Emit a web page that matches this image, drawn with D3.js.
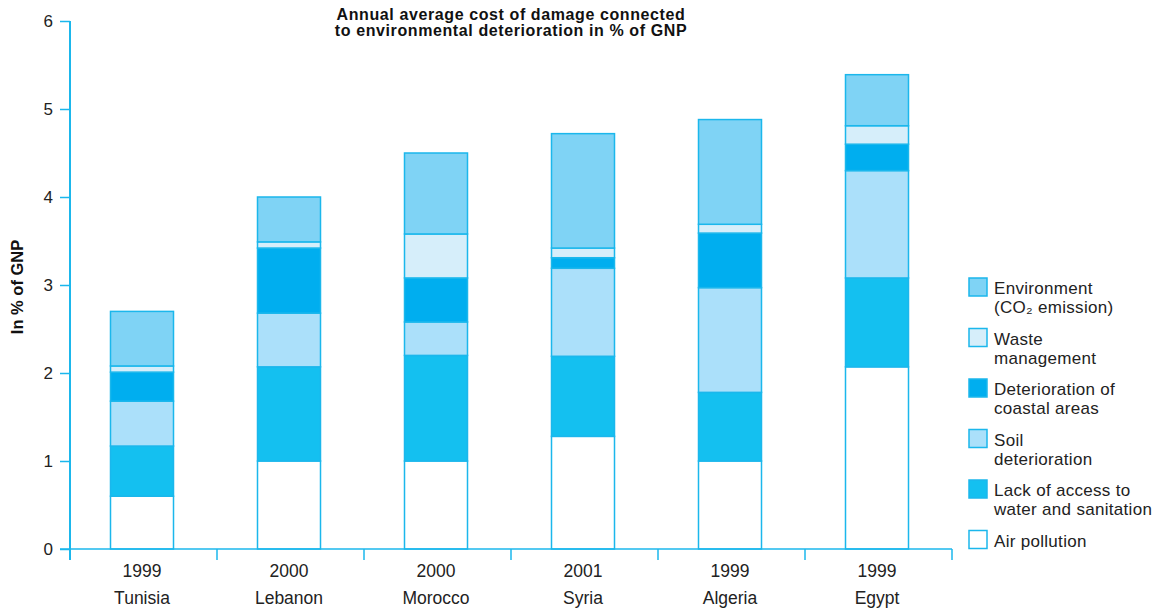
<!DOCTYPE html>
<html>
<head>
<meta charset="utf-8">
<script src="https://cdn.jsdelivr.net/npm/d3@7"></script>
<style>
  html, body { margin: 0; padding: 0; background: #fff; }
  svg { display: block; font-family: "Liberation Sans", Arial, Helvetica, sans-serif; }
</style>
</head>
<body>
<svg id="chart" width="1157" height="611"></svg>
<script>
// Countries and survey years
const countries = ["Tunisia", "Lebanon", "Morocco", "Syria", "Algeria", "Egypt"];
const years = ["1999", "2000", "2000", "2001", "1999", "1999"];

// Cost of damage by category, % of GNP (stacked bottom to top)
const airPollution   = [0.60, 1.00, 1.00, 1.28, 1.00, 2.07];
const waterAccess    = [0.57, 1.07, 1.20, 0.91, 0.78, 1.01];
const soil           = [0.51, 0.61, 0.38, 1.00, 1.19, 1.22];
const coastal        = [0.33, 0.74, 0.50, 0.12, 0.62, 0.30];
const waste          = [0.07, 0.07, 0.50, 0.11, 0.10, 0.21];
const co2            = [0.62, 0.51, 0.92, 1.30, 1.19, 0.58];

const yTicks = [0, 1, 2, 3, 4, 5, 6];

const seriesKeys = ["air", "water", "soil", "coastal", "waste", "co2"];
const seriesValues = { air: airPollution, water: waterAccess, soil: soil, coastal: coastal, waste: waste, co2: co2 };
const seriesColor = {
  air: "#ffffff",
  water: "#14c0f0",
  soil: "#abe0fa",
  coastal: "#00aeef",
  waste: "#d6eefa",
  co2: "#7fd3f5"
};
// Legend, top to bottom
const legendItems = [
  { key: "co2", lines: ["Environment", "(CO\u2082 emission)"] },
  { key: "waste", lines: ["Waste", "management"] },
  { key: "coastal", lines: ["Deterioration of", "coastal areas"] },
  { key: "soil", lines: ["Soil", "deterioration"] },
  { key: "water", lines: ["Lack of access to", "water and sanitation"] },
  { key: "air", lines: ["Air pollution"] }
];

const axisColor = "#1bb7ec";
const textColor = "#222";
const svg = d3.select("#chart");

const x = d3.scaleBand().domain(d3.range(countries.length)).range([70, 952]).paddingInner(0).paddingOuter(0);
const y = d3.scaleLinear().domain([0, 6]).range([549, 21]);
const barW = 63;

const rows = countries.map((c, i) => {
  const r = { i };
  seriesKeys.forEach(k => r[k] = seriesValues[k][i]);
  return r;
});
const stacked = d3.stack().keys(seriesKeys)(rows);

// Bars
const g = svg.append("g");
stacked.forEach(layer => {
  g.selectAll(null).data(layer).enter().append("rect")
    .attr("x", d => x(d.data.i) + x.bandwidth() / 2 - barW / 2 - 1.5)
    .attr("width", barW)
    .attr("y", d => y(d[1]))
    .attr("height", d => y(d[0]) - y(d[1]))
    .attr("fill", seriesColor[layer.key])
    .attr("stroke", axisColor)
    .attr("stroke-width", 1.5);
});

// Y axis
const yAxis = d3.axisLeft(y).tickValues(yTicks).tickSize(10).tickPadding(7).tickFormat(d3.format("d"));
const ya = svg.append("g").attr("transform", "translate(70,0)").call(yAxis);
ya.select(".domain").remove();
ya.selectAll(".tick line").attr("stroke", axisColor).attr("stroke-width", 1.5);
ya.selectAll(".tick text").attr("fill", textColor).style("font-size", "17px");
svg.append("line").attr("x1", 70).attr("x2", 70).attr("y1", y(6)).attr("y2", 560)
  .attr("stroke", axisColor).attr("stroke-width", 2);

// X axis baseline and separators
svg.append("line").attr("x1", 60).attr("x2", 952).attr("y1", y(0)).attr("y2", y(0))
  .attr("stroke", axisColor).attr("stroke-width", 1.5);
const seps = d3.range(1, countries.length + 1).map(i => i < countries.length ? x(i) : x(i - 1) + x.bandwidth());
svg.selectAll(null).data(seps).enter().append("line")
  .attr("x1", d => d).attr("x2", d => d).attr("y1", y(0)).attr("y2", 560)
  .attr("stroke", axisColor).attr("stroke-width", 1.5);

// Category labels
svg.selectAll(null).data(years).enter().append("text")
  .attr("x", (d, i) => x(i) + x.bandwidth() / 2 - 1.5).attr("y", 577)
  .attr("text-anchor", "middle").attr("fill", textColor).style("font-size", "17.5px")
  .text(d => d);
svg.selectAll(null).data(countries).enter().append("text")
  .attr("x", (d, i) => x(i) + x.bandwidth() / 2 - 1.5).attr("y", 604)
  .attr("text-anchor", "middle").attr("fill", textColor).style("font-size", "17.5px")
  .text(d => d);

// Title
svg.append("text").attr("x", 511).attr("y", 20).attr("text-anchor", "middle")
  .attr("fill", "#111").style("font-size", "16px").style("font-weight", "bold")
  .style("letter-spacing", "0.6px")
  .text("Annual average cost of damage connected");
svg.append("text").attr("x", 511).attr("y", 36).attr("text-anchor", "middle")
  .attr("fill", "#111").style("font-size", "16px").style("font-weight", "bold")
  .style("letter-spacing", "0.6px")
  .text("to environmental deterioration in % of GNP");

// Y axis title
svg.append("text").attr("transform", "translate(23,287) rotate(-90)")
  .attr("text-anchor", "middle").attr("fill", "#111")
  .style("font-size", "16.5px").style("font-weight", "bold")
  .text("In % of GNP");

// Legend
const lg = svg.append("g").attr("transform", "translate(968,278)");
legendItems.forEach((item, i) => {
  const gy = i * 50.5;
  lg.append("rect").attr("x", 1).attr("y", gy).attr("width", 18).attr("height", 18)
    .attr("fill", seriesColor[item.key]).attr("stroke", axisColor).attr("stroke-width", 1.5);
  item.lines.forEach((ln, j) => {
    lg.append("text").attr("x", 26).attr("y", gy + 16 + j * 19)
      .attr("fill", textColor).style("font-size", "17px").style("letter-spacing", "0.3px").text(ln);
  });
});
</script>
</body>
</html>
